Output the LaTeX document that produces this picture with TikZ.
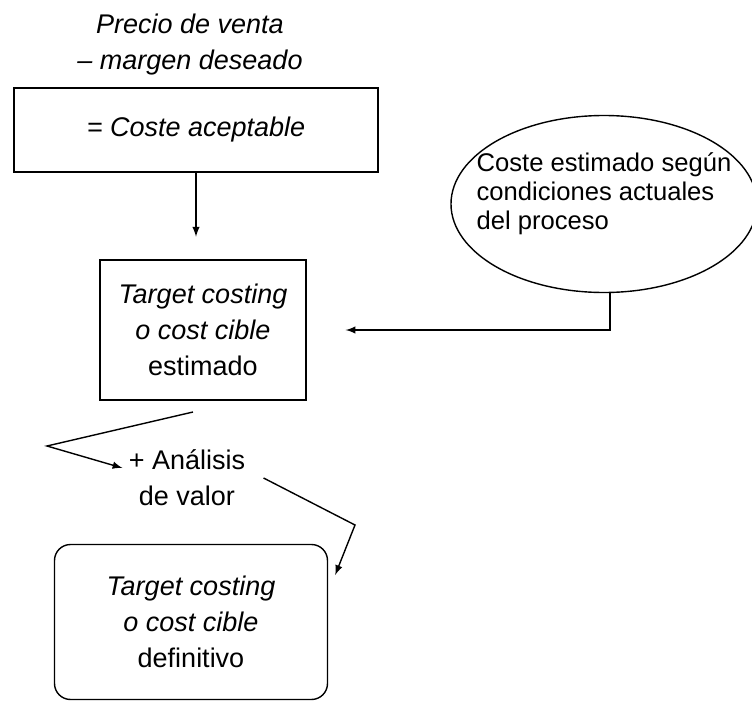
\documentclass[tikz,border=0pt]{standalone}
\usepackage{fontspec}
\setmainfont{Liberation Sans}
\usetikzlibrary{shapes.geometric}

\tikzstyle{block} = [rectangle, draw, line width=0.7pt, inner sep=0pt, align=center]
\tikzstyle{roundblock} = [block, rounded corners=8pt]
\tikzstyle{oval} = [ellipse, draw, line width=0.7pt, align=left, inner xsep=-12pt, inner ysep=0pt]
\tikzstyle{label} = [align=center, inner sep=3pt]
\tikzstyle{arrow} = [draw, line width=0.7pt, -latex]
\tikzstyle{line} = [draw, line width=0.7pt]

\begin{document}
\begin{tikzpicture}[x=0.5pt, y=-0.5pt, font=\fontsize{13.5}{18}\selectfont]
    \useasboundingbox (0,0) rectangle (752,702);

    \node[label] (precio) at (190,45) {\textit{Precio de venta}\\\textit{– margen deseado}};
    \node[block, minimum width=182pt, minimum height=42pt] (accept) at (196,130) {\textit{= Coste aceptable}};
    \node[block, minimum width=103pt, minimum height=70pt] (estim) at (203,330) {\textit{Target costing}\\\textit{o cost cible}\\estimado};
    \node[oval, minimum width=153pt, minimum height=88.5pt, font=\fontsize{12.8}{14.5}\selectfont] (actual) at (604,204) {Coste estimado según\\condiciones actuales\\del proceso\rule[-13pt]{0pt}{0pt}};
    \node[label] (analisis) at (187,478) {+ Análisis\\de valor};
    \node[roundblock, minimum width=136.5pt, minimum height=77.5pt] (final) at (191,622) {\textit{Target costing}\\\textit{o cost cible}\\definitivo};

    % free ends
    \coordinate (tip) at ([xshift=19.5pt]estim.east);
    \coordinate (s1) at (193,412);
    \coordinate (v1) at (47,446);
    \coordinate (v2) at (355,525);
    \coordinate (tip2) at ([xshift=3.5pt, yshift=23.5pt]final.east);

    % lines
    \draw [arrow] (accept.south) -- ++(0,64);
    \draw [arrow] ([xshift=3pt]actual.south) |- (tip);
    \draw [arrow] (s1) -- (v1) -- ([yshift=5pt]analisis.west);
    \draw [arrow] ([xshift=6pt]analisis.east) -- (v2) -- (tip2);
\end{tikzpicture}
\end{document}
